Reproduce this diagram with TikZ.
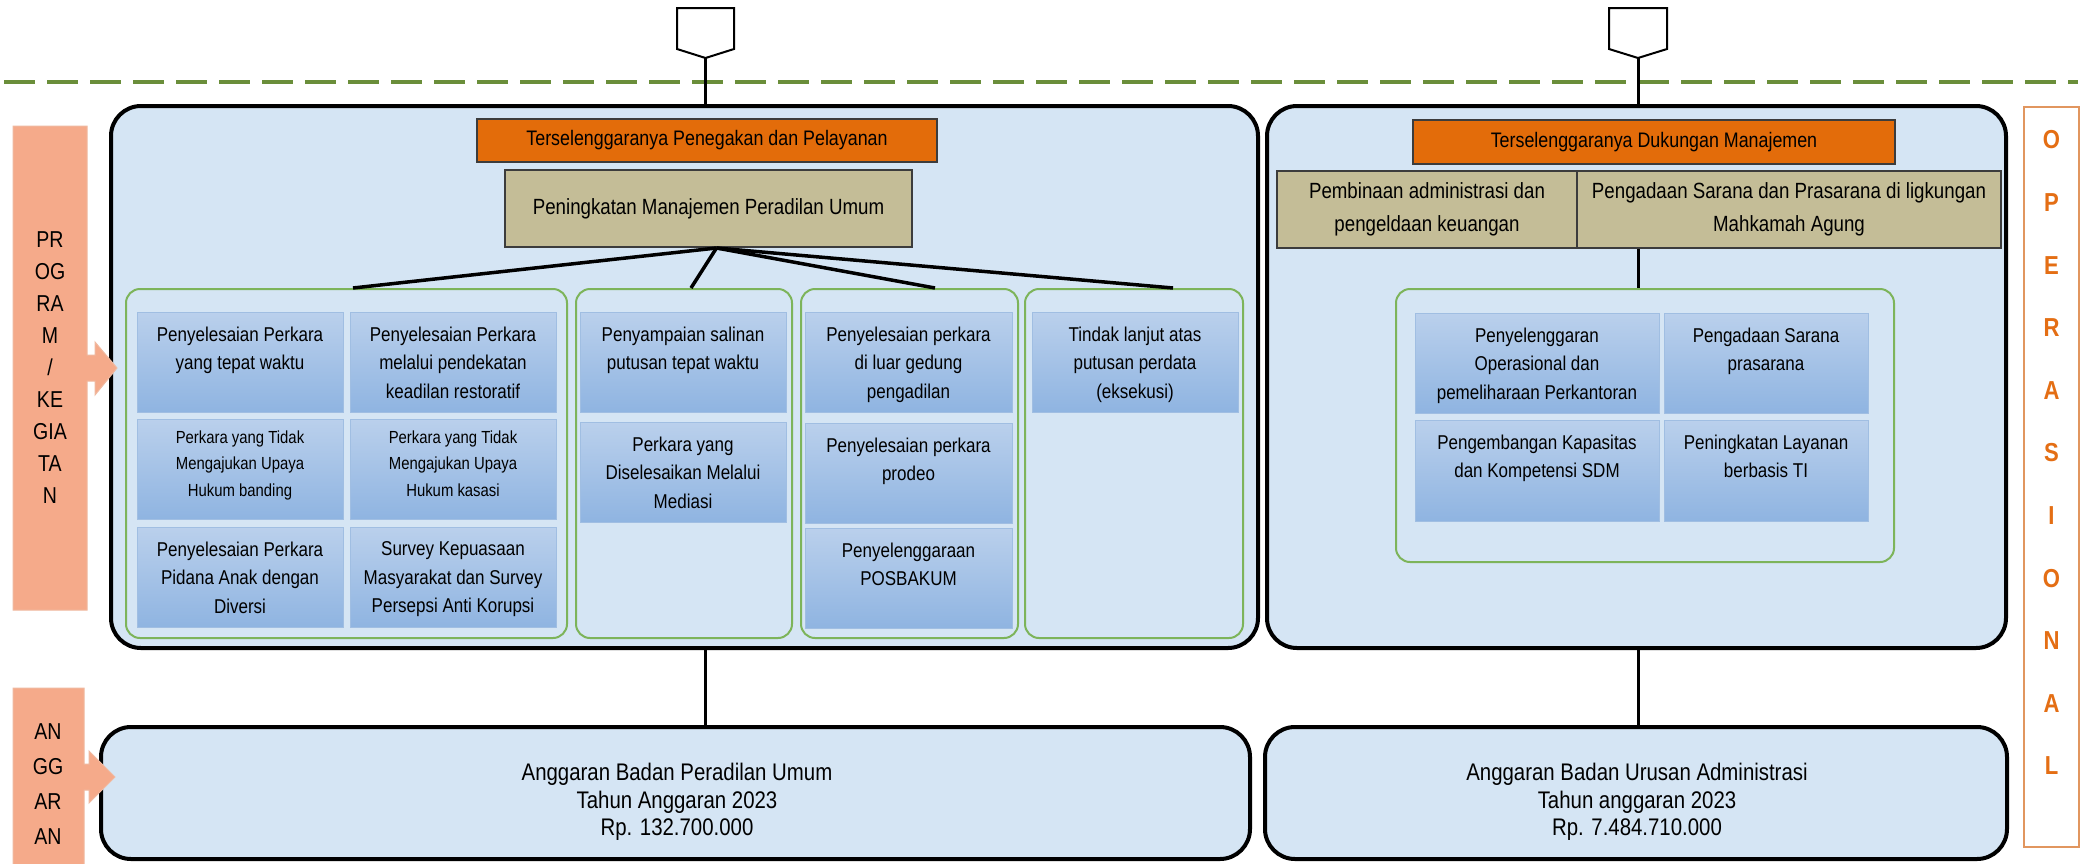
\documentclass[tikz,border=0pt]{standalone}
\usepackage{fontspec}
\newfontfamily\cf[FakeStretch=0.85]{Liberation Sans}
\usetikzlibrary{fit,calc}
\definecolor{bigfill}{RGB}{213,229,244}
\definecolor{bluetop}{RGB}{186,208,236}
\definecolor{bluebot}{RGB}{143,180,225}
\definecolor{bluebd}{RGB}{160,190,226}
\definecolor{grpgreen}{RGB}{125,180,90}
\definecolor{dashgreen}{RGB}{106,142,58}
\definecolor{ttlorange}{RGB}{227,108,10}
\definecolor{tanfill}{RGB}{196,189,151}
\definecolor{tagfill}{RGB}{245,170,138}
\definecolor{opborder}{RGB}{225,150,95}
\definecolor{opletter}{RGB}{228,110,20}
\newcommand\bbx[7][]{%
  \node[bluebox, fit={(#3,#4) (#5,#6)}] (#2) {};
  \node[btext,#1] at ([yshift=-15pt]#2.north) {#7};}
\begin{document}
\begin{tikzpicture}[x=1pt,y=-1pt,
  bigbox/.style={draw=black, line width=4pt, rounded corners=30pt, fill=bigfill, inner sep=0pt},
  grp/.style={draw=grpgreen, line width=2pt, rounded corners=14pt, inner sep=0pt},
  bluebox/.style={draw=bluebd, line width=1pt, top color=bluetop, bottom color=bluebot, inner sep=0pt},
  btext/.style={font=\cf\fontsize{20}{28.5}\selectfont, align=center, anchor=north, inner sep=0pt},
  smalltext/.style={font=\cf\fontsize{17.5}{26.5}\selectfont},
  ttl/.style={draw={rgb,255:red,60;green,60;blue,60}, line width=1.5pt, fill=ttlorange, inner sep=0pt, align=center, font=\cf\fontsize{21}{30}\selectfont},
  tanbox/.style={draw={rgb,255:red,60;green,60;blue,60}, line width=2pt, fill=tanfill, inner sep=0pt, align=center, font=\cf\fontsize{22}{33}\selectfont},
  bottext/.style={align=center, inner sep=0pt, font=\cf\fontsize{24}{27.5}\selectfont},
  tagtext/.style={align=center, inner sep=0pt, font=\cf\fontsize{23}{32}\selectfont},
  tag/.style={fill=tagfill, draw={rgb,255:red,240;green,185;blue,160}, line width=1pt},
  conn/.style={draw=black, line width=3pt},
  fan/.style={draw=black, line width=3.5pt},
  pent/.style={draw=black, line width=2pt, fill=white},
  dashline/.style={draw=dashgreen, line width=4pt, dash pattern=on 31pt off 12pt},
  opl/.style={text=opletter, inner sep=0pt, font=\cf\bfseries\fontsize{26}{26}\selectfont}
]
\useasboundingbox[fill=white] (0,0) rectangle (2089,863);

% dashed separator
\coordinate (dA) at (4,82);
\coordinate (dB) at (2078,82);
\draw[dashline] (dA) -- (dB);

% pentagon connectors
\draw[pent] (677,8) -- (734,8) -- (734,49) -- (705.5,58) -- (677,49) -- cycle;
\coordinate (pLtip) at (705.5,58);
\draw[pent] (1609,8) -- (1667,8) -- (1667,49) -- (1638,58) -- (1609,49) -- cycle;
\coordinate (pRtip) at (1638,58);

% big boxes
\node[bigbox, fit={(111,106) (1258,648)}] (bigL) {};
\node[bigbox, fit={(1267,106) (2006,648)}] (bigR) {};
\draw[conn] (pLtip) -- (pLtip |- bigL.north);
\draw[conn] (pRtip) -- (pRtip |- bigR.north);

% left titles
\node[ttl, minimum width=460pt, minimum height=43pt] (tL1) at (707,140.5) {Terselenggaranya Penegakan dan Pelayanan};
\node[tanbox, minimum width=407pt, minimum height=77pt] (tL2) at (708.5,208.5) {Peningkatan Manajemen Peradilan Umum};

% green groups left
\node[grp, fit={(126,289) (567,638)}] (g1) {};
\node[grp, fit={(576,289) (792,638)}] (g2) {};
\node[grp, fit={(801,289) (1018,638)}] (g3) {};
\node[grp, fit={(1025,289) (1243,638)}] (g4) {};

\coordinate (fan) at ([xshift=8pt]tL2.south);
\draw[fan] (fan) -- (353,0 |- g1.north);
\draw[fan] (fan) -- (691,0 |- g2.north);
\draw[fan] (fan) -- (935,0 |- g3.north);
\draw[fan] (fan) -- (1173,0 |- g4.north);

% group 1
\bbx{b11}{137}{312}{343}{412}{Penyelesaian Perkara\\yang tepat waktu}
\bbx{b12}{350}{312}{556}{412}{Penyelesaian Perkara\\melalui pendekatan\\keadilan restoratif}
\bbx[smalltext,yshift=3pt]{b21}{137}{419}{343}{519}{Perkara yang Tidak\\Mengajukan Upaya\\Hukum banding}
\bbx[smalltext,yshift=3pt]{b22}{350}{419}{556}{519}{Perkara yang Tidak\\Mengajukan Upaya\\Hukum kasasi}
\bbx{b31}{137}{527}{343}{627}{Penyelesaian Perkara\\Pidana Anak dengan\\Diversi}
\bbx{b32}{350}{527}{556}{627}{Survey Kepuasaan\\Masyarakat dan Survey\\Persepsi Anti Korupsi}
% group 2
\bbx{c1}{580}{312}{786}{412}{Penyampaian salinan\\putusan tepat waktu}
\bbx{c2}{580}{422}{786}{522}{Perkara yang\\Diselesaikan Melalui\\Mediasi}
% group 3
\bbx{d1}{805}{312}{1012}{412}{Penyelesaian perkara\\di luar gedung\\pengadilan}
\bbx{d2}{805}{423}{1012}{523}{Penyelesaian perkara\\prodeo}
\bbx{d3}{805}{528}{1012}{628}{Penyelenggaraan\\POSBAKUM}
% group 4
\bbx{e1}{1032}{312}{1238}{412}{Tindak lanjut atas\\putusan perdata\\(eksekusi)}

% right titles
\node[ttl, minimum width=482pt, minimum height=44pt] (tR1) at (1654,142) {Terselenggaranya Dukungan Manajemen};
\node[tanbox, minimum width=300pt, minimum height=77pt] (tR2) at (1427,209.5) {Pembinaan administrasi dan\\pengeldaan keuangan};
\node[tanbox, minimum width=424pt, minimum height=77pt] (tR3) at (1789,209.5) {Pengadaan Sarana dan Prasarana di ligkungan\\Mahkamah Agung};

\node[grp, fit={(1396,289) (1894,562)}] (rg) {};
\draw[conn] (tR3.south -| pRtip) -- (rg.north -| pRtip);
\bbx{f11}{1415}{313}{1659}{413}{Penyelenggaran\\Operasional dan\\pemeliharaan Perkantoran}
\bbx{f12}{1664}{313}{1868}{413}{Pengadaan Sarana\\prasarana}
\bbx{f21}{1415}{420}{1659}{521}{Pengembangan Kapasitas\\dan Kompetensi SDM}
\bbx{f22}{1664}{420}{1868}{521}{Peningkatan Layanan\\berbasis TI}

% bottom boxes
\node[bigbox, fit={(101,727) (1250,859)}] (botL) {};
\node[bigbox, fit={(1265,727) (2007,859)}] (botR) {};
\draw[conn] (bigL.south -| pLtip) -- (botL.north -| pLtip);
\draw[conn] (bigR.south -| pRtip) -- (botR.north -| pRtip);
\node[bottext] (botLt) at (677,802) {Anggaran Badan Peradilan Umum\\Tahun Anggaran 2023\\Rp. 132.700.000};
\node[bottext] (botRt) at (1637,802) {Anggaran Badan Urusan Administrasi\\Tahun anggaran 2023\\Rp. 7.484.710.000};

% left tags
\path[tag] (13,126) -- (87,126) -- (87,355) -- (95,355) -- (95,342) -- (117,368) -- (95,395) -- (95,381) -- (87,381) -- (87,610) -- (13,610) -- cycle;
\node[tagtext] (tagP) at (50,368) {PR\\OG\\RA\\M\\/\\KE\\GIA\\TA\\N};
\path[tag] (13,688) -- (84,688) -- (84,764) -- (89,764) -- (89,751) -- (115,777) -- (89,803) -- (89,790) -- (84,790) -- (84,870) -- (13,870) -- cycle;
\node[tagtext, font=\cf\fontsize{23}{35}\selectfont] (tagA) at (48,784) {AN\\GG\\AR\\AN};

% operasional
\node[draw=opborder, line width=2pt, fill=white, inner sep=0pt, fit={(2024,107) (2079,847)}] (op) {};
\foreach \l [count=\i from 0] in {O,P,E,R,A,S,I,O,N,A,L}{
  \node[opl] (opl\i) at (2051.5,{140+62.6*\i}) {\l};
}
\end{tikzpicture}
\end{document}
